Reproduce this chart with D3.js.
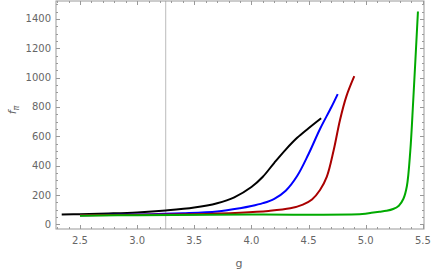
<!DOCTYPE html>
<html>
<head>
<meta charset="utf-8">
<script src="https://cdn.jsdelivr.net/npm/d3@7"></script>
<style>
  body { margin: 0; background: #fff; }
  svg { display: block; font-family: "DejaVu Sans", sans-serif; }
  .tick-label { fill: #666; font-size: 10px; }
</style>
</head>
<body>
<svg id="chart" width="436" height="273"></svg>
<script>
const xTicks = [2.5, 3.0, 3.5, 4.0, 4.5, 5.0, 5.5];
const yTicks = [0, 200, 400, 600, 800, 1000, 1200, 1400];
const gridX = 3.25;

const blackSeries = [
  [2.34, 67], [2.5, 70], [2.75, 75], [3.0, 82], [3.25, 95], [3.5, 115],
  [3.7, 145], [3.85, 185], [4.0, 255], [4.1, 325], [4.2, 420], [4.3, 510],
  [4.4, 590], [4.5, 655], [4.61, 723]
];
const blueSeries = [
  [2.5, 63], [3.0, 68], [3.4, 76], [3.7, 88], [3.9, 110], [4.0, 125],
  [4.1, 145], [4.2, 175], [4.3, 230], [4.4, 330], [4.5, 480], [4.6, 650],
  [4.7, 800], [4.755, 888]
];
const redSeries = [
  [2.5, 62], [3.5, 70], [3.9, 80], [4.15, 92], [4.34, 110], [4.45, 135],
  [4.53, 170], [4.6, 235], [4.66, 326], [4.72, 507], [4.775, 712],
  [4.83, 871], [4.9, 1010]
];
const greenSeries = [
  [2.5, 60], [3.0, 63], [4.0, 67], [4.97, 71], [5.05, 80], [5.12, 87],
  [5.18, 93], [5.24, 105], [5.29, 128], [5.33, 175], [5.36, 260],
  [5.39, 500], [5.416, 848], [5.457, 1450]
];

const series = [
  { data: blackSeries, color: "#000000" },
  { data: blueSeries, color: "#0000ff" },
  { data: redSeries, color: "#aa0000" },
  { data: greenSeries, color: "#00aa00" },
];

const svg = d3.select("#chart");
const plotLeft = 56, plotRight = 424, plotTop = 1, plotBottom = 229;

const x = d3.scaleLinear().domain([2.29, 5.51]).range([plotLeft, plotRight]);
const y = d3.scaleLinear().domain([-31, 1522]).range([plotBottom, plotTop]);

// grid line
svg.append("line")
  .attr("x1", x(gridX)).attr("x2", x(gridX))
  .attr("y1", plotTop).attr("y2", plotBottom)
  .attr("stroke", "#bbb").attr("stroke-width", 1);

// curves
const line = d3.line()
  .x((d) => x(d[0]))
  .y((d) => y(d[1]))
  .curve(d3.curveCatmullRom.alpha(0.5));

series.forEach((s) => {
  svg.append("path")
    .datum(s.data)
    .attr("fill", "none")
    .attr("stroke", s.color)
    .attr("stroke-width", 2)
    .attr("stroke-linejoin", "round")
    .attr("d", line);
});

// frame
svg.append("rect")
  .attr("x", plotLeft).attr("y", plotTop)
  .attr("width", plotRight - plotLeft).attr("height", plotBottom - plotTop)
  .attr("fill", "none").attr("stroke", "#999").attr("stroke-width", 1);

const frameTicks = svg.append("g").attr("stroke", "#999").attr("stroke-width", 1);

const xMinor = d3.range(23, 56).map((v) => v / 10);
xMinor.forEach((v) => {
  const major = Math.abs(v * 2 - Math.round(v * 2)) < 1e-6;
  const len = major ? 4 : 2;
  const px = Math.round(x(v)) + 0.5;
  frameTicks.append("line").attr("x1", px).attr("x2", px).attr("y1", plotBottom).attr("y2", plotBottom - len);
  frameTicks.append("line").attr("x1", px).attr("x2", px).attr("y1", plotTop).attr("y2", plotTop + len);
});

const yMinor = d3.range(0, 1501, 50);
yMinor.forEach((v) => {
  const major = v % 200 === 0;
  const len = major ? 4 : 2;
  const py = Math.round(y(v)) + 0.5;
  frameTicks.append("line").attr("x1", plotLeft).attr("x2", plotLeft + len).attr("y1", py).attr("y2", py);
  frameTicks.append("line").attr("x1", plotRight).attr("x2", plotRight - len).attr("y1", py).attr("y2", py);
});

svg.append("g").selectAll("text")
  .data(xTicks)
  .enter().append("text")
  .attr("class", "tick-label")
  .attr("x", (d) => x(d))
  .attr("y", plotBottom + 15)
  .attr("text-anchor", "middle")
  .text((d) => d.toFixed(1));

svg.append("g").selectAll("text")
  .data(yTicks)
  .enter().append("text")
  .attr("class", "tick-label")
  .attr("x", plotLeft - 5)
  .attr("y", (d) => y(d) + 3.5)
  .attr("text-anchor", "end")
  .text((d) => d);

// axis labels
svg.append("text")
  .attr("x", 239).attr("y", 267)
  .attr("text-anchor", "middle")
  .attr("fill", "#666").attr("font-size", 11)
  .text("g");

const yl = svg.append("text")
  .attr("transform", "translate(16,110) rotate(-90)")
  .attr("text-anchor", "middle")
  .attr("fill", "#666").attr("font-size", 11);
yl.append("tspan").attr("font-style", "italic").text("f");
yl.append("tspan").attr("font-size", 8).attr("dy", 3).attr("font-style", "italic").text("π");
</script>
</body>
</html>
